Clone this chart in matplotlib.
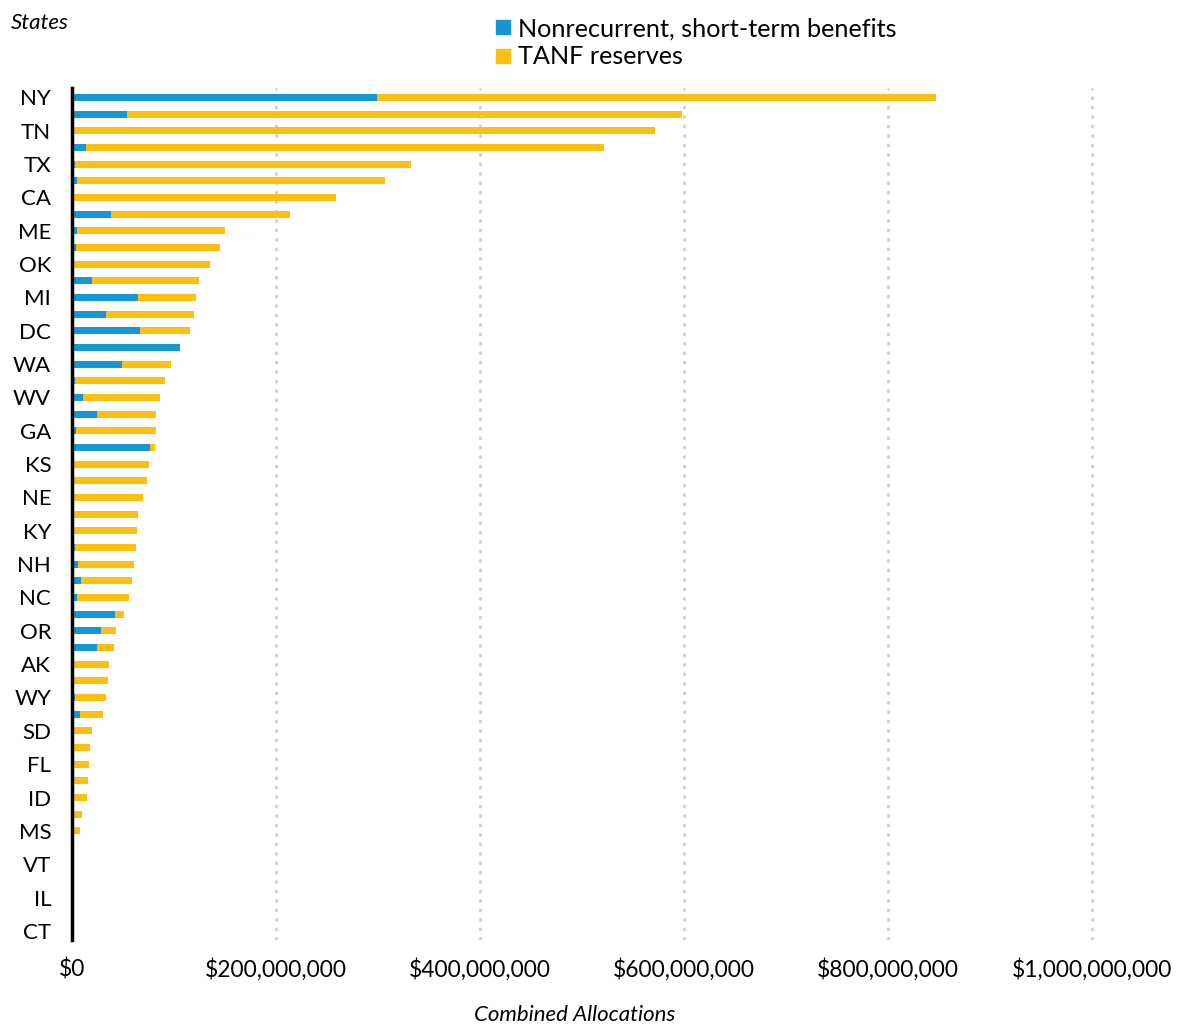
import matplotlib
matplotlib.use("Agg")
import matplotlib.pyplot as plt
from matplotlib.ticker import FuncFormatter
from matplotlib.lines import Line2D

plt.rcParams['font.family'] = ['Lato', 'DejaVu Sans']

states = ["NY", "PA", "TN", "OH", "TX", "HI", "CA", "MA", "ME", "MD",
          "OK", "NJ", "MI", "CO", "DC", "AZ", "WA", "LA", "WV", "MN",
          "GA", "VA", "KS", "IN", "NE", "WI", "KY", "MO", "NH", "UT",
          "NC", "NM", "OR", "RI", "AK", "AR", "WY", "DE", "SD", "ND",
          "FL", "MT", "ID", "IA", "MS", "SC", "VT", "AL", "IL", "NV", "CT"]

# values in millions of dollars
nonrecurrent = [299, 54, 0, 13.4, 3, 5, 0, 38, 4.6, 4,
                0, 20, 65, 33, 67, 106, 48.7, 2.6, 11, 24.5,
                4, 76.5, 0, 0, 0, 0, 0, 2.6, 5.6, 8.8,
                5, 42, 28.7, 24.5, 0, 2, 3, 7.8, 0, 2,
                0, 0, 0, 0, 0, 0, 0, 0, 0, 0, 0]
totals = [847, 598, 572, 522, 332, 307, 258.5, 214, 150, 145,
          135, 124.5, 121.5, 120, 116, 106, 97, 91.5, 86, 82,
          82, 81.7, 75.5, 73.5, 70, 64.4, 63.4, 63, 61, 58.8,
          56, 51, 42.8, 41, 36, 35, 33, 30, 19.3, 17.3,
          16.7, 15.7, 15, 9.5, 8.2, 1.3, 0, 0, 0, 0, 0]
reserves = [t - n for t, n in zip(totals, nonrecurrent)]

x_ticks = [0, 200e6, 400e6, 600e6, 800e6, 1000e6]

BLUE = "#1696d2"
YELLOW = "#fdbf11"

fig = plt.figure(figsize=(11.78, 10.26), dpi=100)
ax = fig.add_axes([0.0611, 0.0838, 0.9239, 0.8302])

ypos = list(range(len(states)))
nr = [v * 1e6 for v in nonrecurrent]
rs = [v * 1e6 for v in reserves]
ax.barh(ypos, nr, height=0.42, color=BLUE, zorder=3)
ax.barh(ypos, rs, left=nr, height=0.42, color=YELLOW, zorder=3)

ax.set_ylim(len(states) - 0.45, -0.55)
ax.set_xlim(0, 1.067e9)
ax.set_yticks(ypos[::2])
ax.set_yticklabels(states[::2], fontsize=16)
ax.set_xticks(x_ticks)
ax.xaxis.set_major_formatter(FuncFormatter(lambda v, p: "${:,.0f}".format(v)))
ax.tick_params(axis='x', labelsize=16.4, length=0, pad=13)
ax.tick_params(axis='y', length=0, pad=15)

ax.grid(axis='x', color='#cfcfcf', linestyle=(0, (1.2, 2.2)), linewidth=2, zorder=0)
ax.grid(axis='y', visible=False)
for s in ['top', 'right', 'bottom']:
    ax.spines[s].set_visible(False)
ax.spines['left'].set_linewidth(2.5)
ax.spines['left'].set_color('black')
ax.spines['left'].set_zorder(5)

ax.set_xlabel("Combined Allocations", fontsize=16, style='italic')
ax.xaxis.set_label_coords(0.462, -0.076)
fig.text(0.009, 0.978, "States", fontsize=16, style='italic', ha='left', va='center')

handles = [Line2D([], [], marker='s', linestyle='none', markersize=10, color=BLUE),
           Line2D([], [], marker='s', linestyle='none', markersize=10, color=YELLOW)]
fig.legend(handles, ["Nonrecurrent, short-term benefits", "TANF reserves"],
           loc='upper left', bbox_to_anchor=(0.409, 0.993), frameon=False,
           fontsize=18.2, handletextpad=0.15, labelspacing=0.2, handlelength=0.9,
           borderaxespad=0)

fig.savefig("out.png", dpi=100)
